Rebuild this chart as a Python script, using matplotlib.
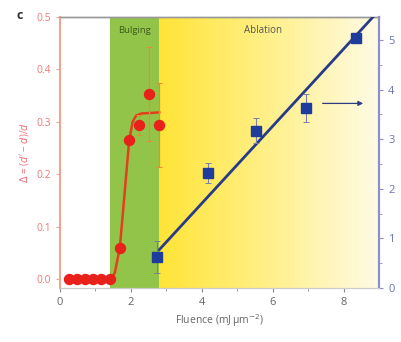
import numpy as np
import matplotlib
matplotlib.use("Agg")
import matplotlib.pyplot as plt
from matplotlib.colors import LinearSegmentedColormap

plt.rcParams['font.family'] = ['Open Sans', 'DejaVu Sans']

# Relative deformation (left axis)
fluence_def = [0.25, 0.48, 0.71, 0.94, 1.17, 1.40, 1.69, 1.95, 2.23, 2.52, 2.80]
deform = [0.0, 0.0, 0.0, 0.0, 0.0, 0.0, 0.06, 0.265, 0.294, 0.353, 0.294]
deform_err = [0, 0, 0, 0, 0, 0, 0, 0, 0.02, 0.09, 0.08]

# Fitted deformation curve
fit_x = [0.25, 1.45, 1.55, 1.69, 1.82, 1.95, 2.05, 2.15, 2.3, 2.8]
fit_y = [0.0, 0.0, 0.012, 0.06, 0.16, 0.262, 0.30, 0.312, 0.316, 0.318]

# Ablation depth (right axis)
fluence_abl = [2.75, 4.17, 5.54, 6.95, 8.35]
ablation = [0.63, 2.32, 3.17, 3.62, 5.03]
ablation_err = [0.32, 0.2, 0.25, 0.28, 0.1]

# Linear fit of ablation
lin_x = [2.8, 8.85]
lin_y = [0.77, 5.48]

# Regime boundaries
bulging = (1.41, 2.8)
ablation_rng = (2.8, 9.0)

fig = plt.figure(figsize=(4.02, 3.42), dpi=100)
ax = fig.add_axes([0.149, 0.158, 0.794, 0.792])
ax2 = ax.twinx()

ax.set_xlim(0, 9)
ax.set_ylim(-0.0172, 0.5)
ax2.set_ylim(0, 5.46)

# Background regimes
ax.axvspan(*bulging, color='#93c44a', lw=0, zorder=0)
cmap = LinearSegmentedColormap.from_list('yfade', ['#ffe437', '#fff08a', '#fffbe6'])
grad = np.linspace(0, 1, 256).reshape(1, -1)
ax.imshow(grad, cmap=cmap, aspect='auto', extent=[ablation_rng[0], ablation_rng[1], -0.0172, 0.5],
          zorder=0)
ax.set_xlim(0, 9)
ax.set_ylim(-0.0172, 0.5)

ax.text(1.63, 0.475, 'Bulging', fontsize=6.8, color='#3d5a1c', va='center')
ax.text(5.2, 0.475, 'Ablation', fontsize=7, color='#555555', va='center')

# Deformation data
ax.plot(fit_x, fit_y, color='#e2401c', lw=1.8, zorder=3)
ax.errorbar(fluence_def, deform, yerr=deform_err, fmt='none', ecolor='#e0902e',
            elinewidth=0.9, capsize=2.5, capthick=0.8, zorder=3)
ax.plot(fluence_def, deform, 'o', color='#e8211b', ms=7.2, zorder=4)

# Ablation data
ax2.plot(lin_x, lin_y, color='#283a8a', lw=2.0, zorder=3, clip_on=True)
ax2.errorbar(fluence_abl, ablation, yerr=ablation_err, fmt='none', ecolor='#7a7fa8',
             elinewidth=0.8, capsize=2.2, capthick=0.7, zorder=3)
ax2.plot(fluence_abl, ablation, 's', color='#1d3c9c', ms=7, zorder=4)
ax2.annotate('', xy=(8.63, 3.72), xytext=(7.33, 3.72),
             arrowprops=dict(arrowstyle='-|>', color='#2e3a84', lw=0.9, mutation_scale=7))

# Axes styling
red_c = '#f2a08c'
red_t = '#f07a78'
blue_c = '#8d8fcc'
blue_t = '#6f73b4'
gray = '#8a8a8a'

ax.set_yticks([0.0, 0.1, 0.2, 0.3, 0.4, 0.5])
ax.set_yticklabels(['0.0', '0.1', '0.2', '0.3', '0.4', '0.5'])
ax.set_xticks([0, 2, 4, 6, 8])
ax.set_xticks([1, 3, 5, 7], minor=True)
ax2.set_yticks([0, 1, 2, 3, 4, 5])
ax2.set_yticks([0.5, 1.5, 2.5, 3.5, 4.5], minor=True)

ax.tick_params(axis='y', colors=red_c, labelcolor=red_t, labelsize=7.5, length=3, width=0.8)
ax.tick_params(axis='x', colors=gray, labelcolor='#666666', labelsize=8, length=3, width=0.8)
ax.tick_params(axis='x', which='minor', colors=gray, length=2, width=0.6)
ax2.tick_params(axis='y', colors=blue_c, labelcolor=blue_t, labelsize=8, length=3, width=0.8)
ax2.tick_params(axis='y', which='minor', colors=blue_c, length=2, width=0.6)

for a in (ax, ax2):
    a.spines['left'].set_color(red_c)
    a.spines['left'].set_linewidth(1.2)
    a.spines['right'].set_color(blue_c)
    a.spines['right'].set_linewidth(1.5)
    a.spines['top'].set_color('#999999')
    a.spines['top'].set_linewidth(1.0)
    a.spines['bottom'].set_color('#cccccc')
    a.spines['bottom'].set_linewidth(0.8)

ax.set_xlabel('Fluence (mJ\u2009\u03bcm$^{-2}$)', fontsize=7.5, color='#666666', labelpad=3)
ax.set_ylabel("$\\Delta$ = ($d'$ \u2212 $d$)/$d$", fontsize=7, color='#ee6f78', labelpad=4)

fig.text(0.04, 0.955, 'c', fontsize=9, fontweight='bold', color='#333333', va='center')

fig.savefig('out.png', dpi=100)
